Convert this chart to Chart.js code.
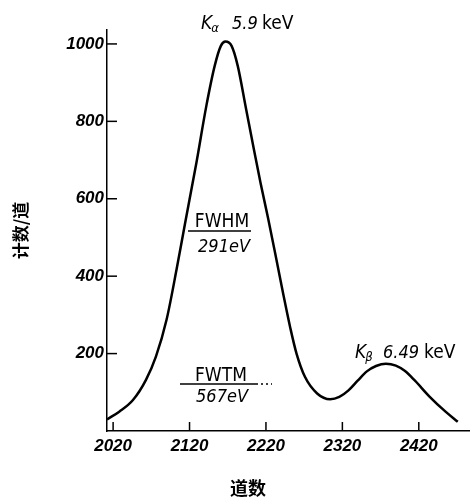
<!DOCTYPE html>
<html>
<head>
<meta charset="utf-8">
<script src="https://cdn.jsdelivr.net/npm/chart.js@4"></script>
<style>
  html, body { margin: 0; padding: 0; background: #fff; }
  canvas { display: block; }
</style>
</head>
<body>
<canvas id="myChart" width="470" height="497"></canvas>
<script>
// spectrum (channel -> counts)
const channels = [2012, 2028, 2046, 2063, 2076, 2090, 2103, 2114, 2129, 2142, 2153, 2161, 2167, 2175, 2183, 2194, 2204, 2213, 2223, 2234, 2243, 2252, 2260, 2271, 2287, 2304, 2316, 2328, 2340, 2352, 2364, 2377, 2390, 2402, 2415, 2434, 2455, 2471];
const counts = [30, 50, 80, 132, 192, 288, 417, 535, 693, 840, 944, 995, 1006, 995, 944, 832, 730, 640, 548, 440, 350, 265, 200, 140, 97, 82, 88, 105, 130, 154, 168, 174, 169, 155, 130, 89, 50, 24];
const xTicks = [2020, 2120, 2220, 2320, 2420];
const yTicks = [200, 400, 600, 800, 1000];

const tickFont = '"Liberation Sans", sans-serif';
const noteFont = '"DejaVu Sans Condensed", "DejaVu Sans", sans-serif';
const cjkFont = '"Noto Sans CJK SC", sans-serif';

function peak_label(ctx, x, y, sub, num, numX, unitX) {
    ctx.font = 'italic 19px ' + noteFont;
    ctx.fillText('K', x, y);
    let w = ctx.measureText('K').width;
    ctx.font = 'italic 13px ' + noteFont;
    ctx.fillText(sub, x + w - 1, y + 3);
    ctx.font = 'italic 18px ' + noteFont;
    ctx.fillText(num, numX, y);
    ctx.font = '19px ' + noteFont;
    ctx.fillText('keV', unitX, y);
}

const annotations = {
    id: 'annotations',
    afterDraw(chart) {
        const { ctx, chartArea, scales } = chart;
        const x = scales.x, y = scales.y;
        ctx.save();
        ctx.strokeStyle = '#000';
        ctx.fillStyle = '#000';
        ctx.lineWidth = 1.5;
        // inward tick marks
        xTicks.forEach(v => {
            let px = x.getPixelForValue(v);
            ctx.beginPath();
            ctx.moveTo(px, chartArea.bottom);
            ctx.lineTo(px, chartArea.bottom - 9);
            ctx.stroke();
        });
        yTicks.forEach(v => {
            let py = y.getPixelForValue(v);
            ctx.beginPath();
            ctx.moveTo(chartArea.left, py);
            ctx.lineTo(chartArea.left + 10, py);
            ctx.stroke();
        });
        // peak labels
        ctx.textBaseline = 'alphabetic';
        ctx.textAlign = 'left';
        peak_label(ctx, 201, 29, 'α', '5.9', 232, 262);
        peak_label(ctx, 355, 358, 'β', '6.49', 383, 424);
        // FWHM / FWTM fractions
        ctx.textAlign = 'center';
        ctx.font = '19px ' + noteFont;
        ctx.fillText('FWHM', 222, 227);
        ctx.font = 'italic 18px ' + noteFont;
        ctx.fillText('291eV', 224, 252);
        ctx.beginPath();
        ctx.moveTo(188, 231);
        ctx.lineTo(251, 231);
        ctx.stroke();
        ctx.font = '19px ' + noteFont;
        ctx.fillText('FWTM', 221, 381);
        ctx.font = 'italic 18px ' + noteFont;
        ctx.fillText('567eV', 222, 402);
        ctx.beginPath();
        ctx.moveTo(180, 384);
        ctx.lineTo(256, 384);
        ctx.stroke();
        ctx.setLineDash([2, 3]);
        ctx.beginPath();
        ctx.moveTo(256, 384);
        ctx.lineTo(272, 384);
        ctx.stroke();
        ctx.setLineDash([]);
        // x axis title
        ctx.font = 'bold 18px ' + cjkFont;
        ctx.fillText('道数', 248, 495);
        ctx.restore();
    }
};

const ctx = document.getElementById('myChart');
const chart = new Chart(ctx, {
    type: 'line',
    data: {
        datasets: [
            {
                label: '计数',
                data: channels.map((c, i) => ({ x: c, y: counts[i] })),
                borderColor: '#000',
                borderWidth: 2.5,
                pointRadius: 0,
                fill: false,
                cubicInterpolationMode: 'monotone',
            },
        ],
    },
    options: {
        responsive: false,
        animation: false,
        devicePixelRatio: 1,
        layout: { padding: { top: 30, right: 0, left: 0, bottom: 0 } },
        scales: {
            x: {
                type: 'linear',
                min: 2012,
                max: 2487,
                afterFit: (s) => { s.height = 66; },
                afterBuildTicks: (s) => { s.ticks = xTicks.map(v => ({ value: v })); },
                grid: { display: false, drawTicks: false, tickLength: 0 },
                border: { color: '#000', width: 1.5 },
                ticks: {
                    color: '#000',
                    padding: 5,
                    maxRotation: 0,
                    font: { family: tickFont, size: 17, style: 'italic', weight: 'bold' },
                    callback: (v) => String(v),
                },
            },
            y: {
                min: 0,
                max: 1036,
                afterFit: (s) => { s.width = 107; },
                afterBuildTicks: (s) => { s.ticks = yTicks.map(v => ({ value: v })); },
                grid: { display: false, drawTicks: false, tickLength: 0 },
                border: { color: '#000', width: 1.5 },
                ticks: {
                    color: '#000',
                    padding: 3,
                    font: { family: tickFont, size: 17, style: 'italic', weight: 'bold' },
                    callback: (v) => String(v),
                },
                title: {
                    display: true,
                    text: '计数/道',
                    color: '#000',
                    font: { family: cjkFont, size: 17, weight: 'bold' },
                    padding: { top: 10, bottom: 0 },
                },
            },
        },
        plugins: {
            legend: { display: false },
            tooltip: { enabled: false },
        },
    },
    plugins: [annotations],
});
</script>
</body>
</html>
